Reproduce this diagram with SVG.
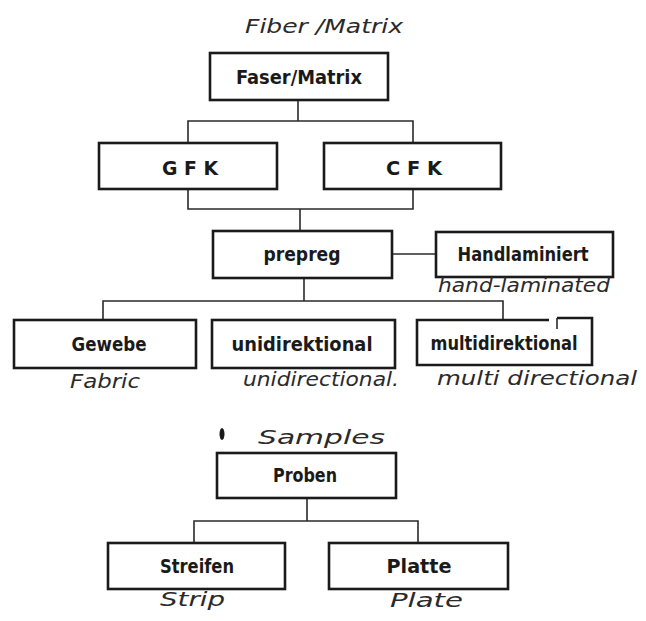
<svg xmlns="http://www.w3.org/2000/svg" width="646" height="621" viewBox="0 0 646 621">
<style>
.box{fill:#fff;stroke:#1a1a1a;stroke-width:2.6}
.lbl{font-family:"DejaVu Sans Condensed","Liberation Sans",sans-serif;font-weight:bold;font-size:19px;fill:#1a1a1a;text-anchor:middle}
.hw{font-family:"DejaVu Sans","Liberation Sans",sans-serif;font-style:italic;font-size:19px;fill:#2a2a2a}
.ln{fill:none;stroke:#2a2a2a;stroke-width:1.6}
</style>
<rect width="646" height="621" fill="#fff"/>
<g id="connectors">
<path class="ln" d="M298,100 V121 M188,143 V121 H413 V143"/>
<path class="ln" d="M188,189 V209 H413 V189 M300,209 V231"/>
<path class="ln" d="M392,254 H436"/>
<path class="ln" d="M304,278 V301 M103,320 V301 H503 V320"/>
<path class="ln" d="M307,498 V521 M194,543 V521 H418 V543"/>
</g>
<text class="hw" x="245" y="33" textLength="158" lengthAdjust="spacingAndGlyphs">Fiber /Matrix</text>
<g id="faser"><rect class="box" x="210" y="53" width="178" height="47"/><text class="lbl" x="299" y="84" textLength="126" lengthAdjust="spacingAndGlyphs">Faser/Matrix</text></g>
<g id="gfk"><rect class="box" x="99" y="143" width="178" height="46"/><text class="lbl" x="190" y="175" textLength="56" lengthAdjust="spacingAndGlyphs">G F K</text></g>
<g id="cfk"><rect class="box" x="324" y="143" width="177" height="46"/><text class="lbl" x="414" y="175" textLength="56" lengthAdjust="spacingAndGlyphs">C F K</text></g>
<g id="prepreg"><rect class="box" x="213" y="231" width="179" height="47"/><text class="lbl" x="302" y="261" textLength="77" lengthAdjust="spacingAndGlyphs">prepreg</text></g>
<g id="hand"><rect class="box" x="436" y="232" width="177" height="45"/><text class="lbl" x="523" y="261" textLength="131" lengthAdjust="spacingAndGlyphs">Handlaminiert</text><text class="hw" x="438" y="292" font-size="15" textLength="172" lengthAdjust="spacingAndGlyphs">hand-laminated</text></g>
<g id="gewebe"><rect class="box" x="14" y="320" width="182" height="48"/><text class="lbl" x="109" y="351" textLength="75" lengthAdjust="spacingAndGlyphs">Gewebe</text><text class="hw" x="70" y="388" textLength="70" lengthAdjust="spacingAndGlyphs">Fabric</text></g>
<g id="uni"><rect class="box" x="212" y="320" width="183" height="48"/><text class="lbl" x="302" y="351" textLength="141" lengthAdjust="spacingAndGlyphs">unidirektional</text><text class="hw" x="243" y="386" textLength="156" lengthAdjust="spacingAndGlyphs">unidirectional.</text></g>
<g id="multi"><path class="box" d="M557,318 H592 V365 H417 V320 H549"/><path class="ln" d="M557,318 V329"/><text class="lbl" x="504" y="350" textLength="147" lengthAdjust="spacingAndGlyphs">multidirektional</text><text class="hw" x="437" y="385" textLength="200" lengthAdjust="spacingAndGlyphs">multi directional</text></g>
<ellipse cx="222" cy="434" rx="2.5" ry="6" fill="#1a1a1a"/>
<text class="hw" x="258" y="444" font-size="22" textLength="127" lengthAdjust="spacingAndGlyphs">Samples</text>
<g id="proben"><rect class="box" x="217" y="453" width="179" height="45"/><text class="lbl" x="305" y="482" textLength="64" lengthAdjust="spacingAndGlyphs">Proben</text></g>
<g id="streifen"><rect class="box" x="108" y="543" width="177" height="46"/><text class="lbl" x="197" y="573" textLength="74" lengthAdjust="spacingAndGlyphs">Streifen</text><text class="hw" x="160" y="606" textLength="65" lengthAdjust="spacingAndGlyphs">Strip</text></g>
<g id="platte"><rect class="box" x="329" y="543" width="179" height="46"/><text class="lbl" x="419" y="573" textLength="65" lengthAdjust="spacingAndGlyphs">Platte</text><text class="hw" x="390" y="607" textLength="73" lengthAdjust="spacingAndGlyphs">Plate</text></g>
</svg>
